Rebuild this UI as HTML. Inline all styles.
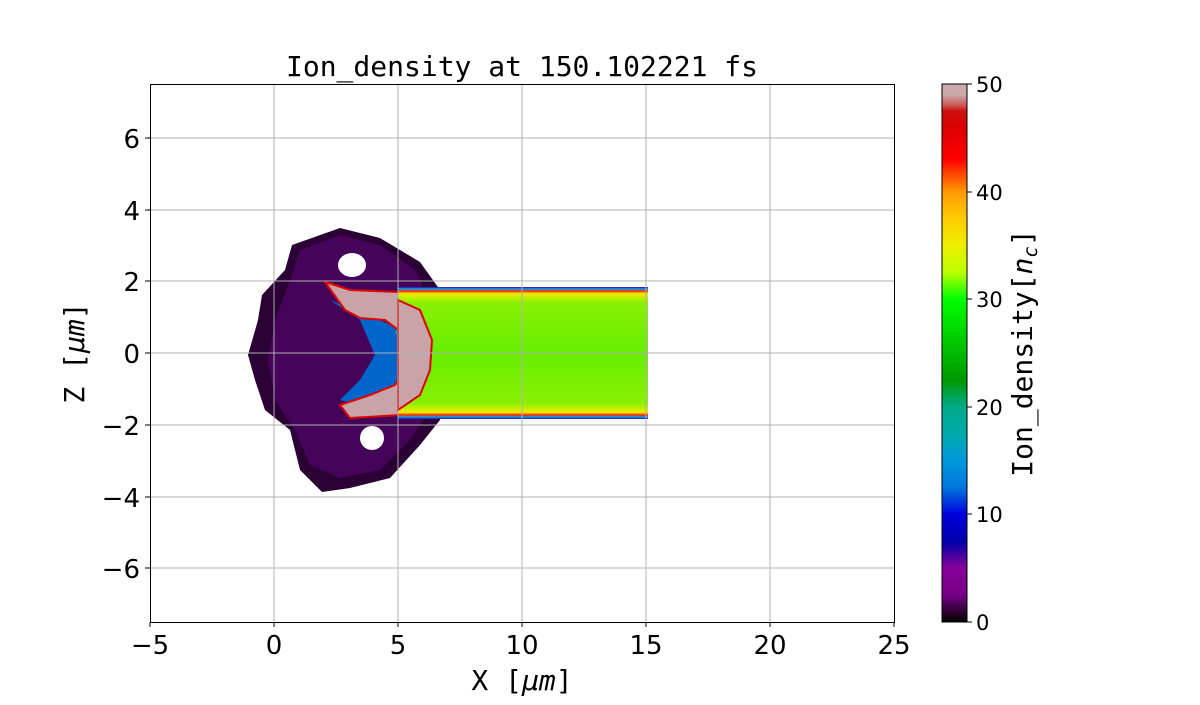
<!DOCTYPE html>
<html><head><meta charset="utf-8"><style>
body{margin:0;background:#fff;width:1200px;height:700px;overflow:hidden}
text{font-family:"DejaVu Sans","Liberation Sans",sans-serif;fill:#000}
.m{font-family:"DejaVu Sans Mono","Liberation Mono",monospace}
</style></head><body>
<svg width="1200" height="700" xmlns="http://www.w3.org/2000/svg">
<defs>
<linearGradient id="cb" x1="0" y1="1" x2="0" y2="0">
<stop offset="0" stop-color="#000"/>
<stop offset="0.05" stop-color="#770088"/>
<stop offset="0.1" stop-color="#880099"/>
<stop offset="0.15" stop-color="#0000aa"/>
<stop offset="0.2" stop-color="#0000dd"/>
<stop offset="0.25" stop-color="#0077dd"/>
<stop offset="0.3" stop-color="#0099dd"/>
<stop offset="0.35" stop-color="#00aaaa"/>
<stop offset="0.4" stop-color="#00aa88"/>
<stop offset="0.45" stop-color="#009900"/>
<stop offset="0.5" stop-color="#00bb00"/>
<stop offset="0.55" stop-color="#00dd00"/>
<stop offset="0.6" stop-color="#00ff00"/>
<stop offset="0.65" stop-color="#bbff00"/>
<stop offset="0.7" stop-color="#eeee00"/>
<stop offset="0.75" stop-color="#ffcc00"/>
<stop offset="0.8" stop-color="#ff9900"/>
<stop offset="0.84" stop-color="#ff3300"/>
<stop offset="0.86" stop-color="#ff0000"/>
<stop offset="0.92" stop-color="#dd0000"/>
<stop offset="0.95" stop-color="#cc1111"/>
<stop offset="0.96" stop-color="#cc5555"/>
<stop offset="0.98" stop-color="#ccaaaa"/>
<stop offset="1" stop-color="#ccaaaa"/>
</linearGradient>
<linearGradient id="rg" x1="0" y1="0" x2="0" y2="1">
<stop offset="0" stop-color="#3300aa"/>
<stop offset="0.015" stop-color="#00aaff"/>
<stop offset="0.03" stop-color="#ff2200"/>
<stop offset="0.05" stop-color="#eeee00"/>
<stop offset="0.12" stop-color="#88f000"/>
<stop offset="0.5" stop-color="#66ee00"/>
<stop offset="0.88" stop-color="#88f000"/>
<stop offset="0.95" stop-color="#eeee00"/>
<stop offset="0.97" stop-color="#ff2200"/>
<stop offset="0.985" stop-color="#00aaff"/>
<stop offset="1" stop-color="#3300aa"/>
</linearGradient>
</defs>
<!-- blob -->
<path d="M292,245 L340,228 L380,238 L420,262 L440,290 L440,420 L420,445 L390,478 L350,488 L322,492 L300,470 L290,430 L265,410 L255,380 L248,355 L258,320 L262,295 L285,270 Z" fill="#2a0035"/>
<path d="M300,250 L340,235 L380,245 L415,270 L430,300 L430,410 L410,440 L380,470 L340,478 L310,465 L295,430 L275,400 L268,360 L275,320 L290,280 Z" fill="#4a0560" opacity="0.85"/>
<ellipse cx="352" cy="265" rx="14" ry="12" fill="#fff"/>
<ellipse cx="372" cy="438" rx="12" ry="12" fill="#fff"/>
<path d="M330,300 L380,320 L400,330 L420,350 L420,380 L400,400 L380,410 L340,400 L360,380 L375,355 L360,320 Z" fill="#0066cc"/>
<path d="M395,330 L425,345 L430,370 L415,400 L400,395 L405,360 Z" fill="#00bb66"/>
<path d="M325,282 L350,290 L398,292 L420,310 L432,340 L430,370 L420,395 L400,415 L350,418 L340,405 L370,395 L395,385 L410,360 L405,335 L385,320 L360,318 L345,310 Z" fill="#c8a4a8" stroke="#e00000" stroke-width="2"/>
<rect x="398" y="287" width="250" height="132" fill="url(#rg)"/>
<path d="M398,300 L420,310 L432,340 L430,370 L420,395 L398,410 Z" fill="#c8a4a8" stroke="#e00000" stroke-width="2"/>
<!-- grid -->
<g stroke="#b0b0b0" stroke-width="1">
<line x1="274" y1="84" x2="274" y2="622"/><line x1="398" y1="84" x2="398" y2="622"/>
<line x1="522" y1="84" x2="522" y2="622"/><line x1="646" y1="84" x2="646" y2="622"/>
<line x1="770" y1="84" x2="770" y2="622"/>
<line x1="150" y1="138" x2="894" y2="138"/><line x1="150" y1="210" x2="894" y2="210"/>
<line x1="150" y1="281" x2="894" y2="281"/><line x1="150" y1="353" x2="894" y2="353"/>
<line x1="150" y1="425" x2="894" y2="425"/><line x1="150" y1="497" x2="894" y2="497"/>
<line x1="150" y1="568" x2="894" y2="568"/>
</g>
<rect x="150.5" y="84.5" width="744" height="538" fill="none" stroke="#000" stroke-width="1"/>
<g stroke="#000">
<line x1="150" y1="622" x2="150" y2="627"/><line x1="274" y1="622" x2="274" y2="627"/>
<line x1="398" y1="622" x2="398" y2="627"/><line x1="522" y1="622" x2="522" y2="627"/>
<line x1="646" y1="622" x2="646" y2="627"/><line x1="770" y1="622" x2="770" y2="627"/>
<line x1="894" y1="622" x2="894" y2="627"/>
<line x1="145" y1="138" x2="150" y2="138"/><line x1="145" y1="210" x2="150" y2="210"/>
<line x1="145" y1="281" x2="150" y2="281"/><line x1="145" y1="353" x2="150" y2="353"/>
<line x1="145" y1="425" x2="150" y2="425"/><line x1="145" y1="497" x2="150" y2="497"/>
<line x1="145" y1="568" x2="150" y2="568"/>
</g>
<g font-size="26" text-anchor="middle">
<text x="150" y="654">−5</text><text x="274" y="654">0</text><text x="398" y="654">5</text>
<text x="522" y="654">10</text><text x="646" y="654">15</text><text x="770" y="654">20</text><text x="894" y="654">25</text>
</g>
<g font-size="26" text-anchor="end">
<text x="140" y="148">6</text><text x="140" y="220">4</text><text x="140" y="291">2</text>
<text x="140" y="363">0</text><text x="140" y="435">−2</text><text x="140" y="507">−4</text><text x="140" y="578">−6</text>
</g>
<text class="m" x="522" y="76" font-size="28" text-anchor="middle">Ion_density at 150.102221 fs</text>
<text class="m" x="522" y="690" font-size="28" text-anchor="middle">X [<tspan font-style="italic">μm</tspan>]</text>
<text class="m" x="0" y="0" font-size="28" text-anchor="middle" transform="translate(84,353) rotate(-90)">Z [<tspan font-style="italic">μm</tspan>]</text>
<rect x="942" y="84" width="25" height="538" fill="url(#cb)" stroke="#000" stroke-width="1"/>
<g stroke="#000">
<line x1="967" y1="622" x2="972" y2="622"/><line x1="967" y1="514" x2="972" y2="514"/>
<line x1="967" y1="407" x2="972" y2="407"/><line x1="967" y1="299" x2="972" y2="299"/>
<line x1="967" y1="192" x2="972" y2="192"/><line x1="967" y1="84" x2="972" y2="84"/>
</g>
<g font-size="21">
<text x="976" y="630">0</text><text x="976" y="522">10</text><text x="976" y="415">20</text>
<text x="976" y="307">30</text><text x="976" y="200">40</text><text x="976" y="92">50</text>
</g>
<text class="m" x="0" y="0" font-size="28" text-anchor="middle" transform="translate(1032,353) rotate(-90)">Ion_density[<tspan font-style="italic">n</tspan><tspan font-style="italic" font-size="19" dy="5">c</tspan><tspan dy="-5">]</tspan></text>
</svg>
</body></html>
